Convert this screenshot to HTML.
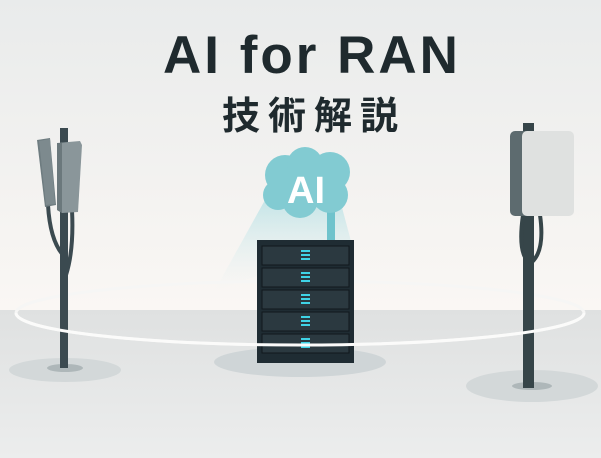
<!DOCTYPE html>
<html><head><style>body{margin:0}svg{display:block}</style></head><body>
<svg width="601" height="458" viewBox="0 0 601 458" xmlns="http://www.w3.org/2000/svg">
<defs>
<linearGradient id="bg" x1="0" y1="0" x2="0" y2="1"><stop offset="0" stop-color="#e9ebeb"/><stop offset="1" stop-color="#faf7f4"/></linearGradient>
<linearGradient id="fl" x1="0" y1="0" x2="0" y2="1"><stop offset="0" stop-color="#dfe1e1"/><stop offset="1" stop-color="#eceded"/></linearGradient>
<linearGradient id="beam" x1="0" y1="0" x2="0" y2="1"><stop offset="0" stop-color="#bfe3e6" stop-opacity=".9"/><stop offset="1" stop-color="#e6f2f2" stop-opacity="0"/></linearGradient>
</defs>
<rect width="601" height="310" fill="url(#bg)"/>
<rect y="310" width="601" height="148" fill="url(#fl)"/>
<text x="312" y="73" text-anchor="middle" font-family="Liberation Sans, sans-serif" font-size="53" font-weight="bold" fill="#1f2a2e" letter-spacing="3">AI for RAN</text>
<text x="314" y="129" text-anchor="middle" font-family="Liberation Sans, 'Noto Sans CJK JP', sans-serif" font-size="38" font-weight="bold" fill="#1f2a2e" letter-spacing="8">技術解説</text>
<ellipse cx="65" cy="370" rx="56" ry="12" fill="#d3d8d9"/>
<ellipse cx="65" cy="368" rx="18" ry="4" fill="#aeb7b9"/>
<ellipse cx="532" cy="386" rx="66" ry="16" fill="#d3d8d9"/>
<ellipse cx="532" cy="386" rx="20" ry="4" fill="#aeb7b9"/>
<ellipse cx="300" cy="362" rx="86" ry="15" fill="#cfd5d7"/>
<polygon points="265,200 340,200 352,245 215,290" fill="url(#beam)"/>
<ellipse cx="300" cy="313" rx="284" ry="32" fill="none" stroke="#f6f6f5" stroke-width="3"/>
<rect x="60" y="128" width="8" height="240" fill="#3b4a50"/>
<path d="M48 205 Q50 240 63 255" stroke="#3b4a50" stroke-width="4" fill="none"/>
<path d="M72 210 Q74 250 66 275" stroke="#3b4a50" stroke-width="4" fill="none"/>
<polygon points="37,140 50,138 56,205 45,207" fill="#6e7c80"/>
<polygon points="39,141 50,139 55,204 46,205" fill="#7d8a8e"/>
<polygon points="57,143 80,141 82,145 78,212 62,213 57,210" fill="#8a969a"/>
<polygon points="57,143 62,143 62,213 57,210" fill="#6b787c"/>
<rect x="523" y="123" width="11" height="265" fill="#364549"/>
<path d="M523 215 Q518 250 527 260 M540 215 Q545 250 532 262" stroke="#364549" stroke-width="4" fill="none"/>
<rect x="510" y="131" width="22" height="85" rx="5" fill="#5d6b6f"/>
<rect x="522" y="131" width="52" height="85" rx="5" fill="#dfe1e0"/>
<rect x="327" y="210" width="8" height="32" fill="#6fc3cc"/>
<g fill="#82cbd2">
<circle cx="285" cy="175" r="20"/><circle cx="305" cy="165" r="18"/><circle cx="330" cy="172" r="20"/>
<circle cx="278" cy="195" r="15"/><circle cx="300" cy="200" r="18"/><circle cx="330" cy="195" r="18"/>
<rect x="270" y="170" width="75" height="30"/>
</g>
<text x="306" y="203" text-anchor="middle" font-family="Liberation Sans, sans-serif" font-size="38" font-weight="bold" fill="#fff">AI</text>
<rect x="257" y="240" width="97" height="123" fill="#1f2c33"/>
<g fill="#2b3940" stroke="#10181c" stroke-width="1">
<rect x="262" y="246" width="87" height="19"/><rect x="262" y="268" width="87" height="19"/><rect x="262" y="290" width="87" height="19"/><rect x="262" y="312" width="87" height="19"/><rect x="262" y="334" width="87" height="19"/>
</g>
<g fill="#3fd3e6">
<rect x="301" y="250" width="9" height="2"/><rect x="301" y="254" width="9" height="2"/><rect x="301" y="258" width="9" height="2"/>
<rect x="301" y="272" width="9" height="2"/><rect x="301" y="276" width="9" height="2"/><rect x="301" y="280" width="9" height="2"/>
<rect x="301" y="294" width="9" height="2"/><rect x="301" y="298" width="9" height="2"/><rect x="301" y="302" width="9" height="2"/>
<rect x="301" y="316" width="9" height="2"/><rect x="301" y="320" width="9" height="2"/><rect x="301" y="324" width="9" height="2"/>
<rect x="301" y="338" width="9" height="2"/><rect x="301" y="342" width="9" height="2"/><rect x="301" y="346" width="9" height="2"/>
</g>
<path d="M16 313 A284 32 0 0 0 584 313" fill="none" stroke="#fbfbfa" stroke-width="3"/>
</svg>
</body></html>
